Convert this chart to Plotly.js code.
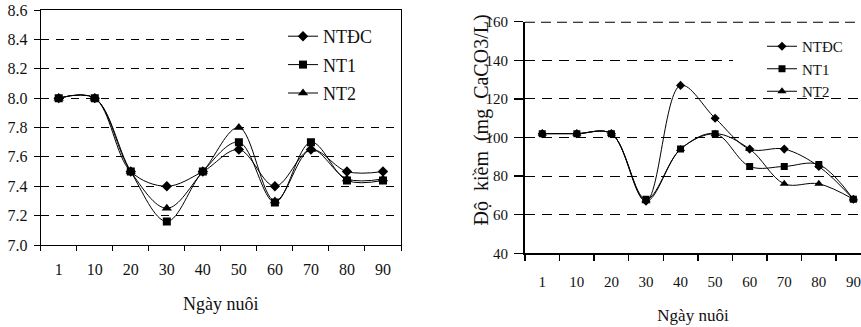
<!DOCTYPE html>
<html>
<head>
<meta charset="utf-8">
<script src="https://cdn.plot.ly/plotly-3.0.1.min.js"></script>
<style>html,body{margin:0;padding:0;background:#fff;}#chart{width:861px;height:327px;}</style>
</head>
<body>
<div id="chart"></div>
<script>
// Category labels (day of culture)
const days = ['1', '10', '20', '30', '40', '50', '60', '70', '80', '90'];

// Left panel: pH
const phNTDC = [8.0, 8.0, 7.5, 7.4, 7.5, 7.65, 7.4, 7.65, 7.5, 7.5];
const phNT1  = [8.0, 8.0, 7.5, 7.16, 7.5, 7.7, 7.29, 7.7, 7.44, 7.44];
const phNT2  = [8.0, 8.0, 7.5, 7.25, 7.5, 7.8, 7.3, 7.65, 7.45, 7.45];

// Right panel: alkalinity (mg CaCO3/L)
const alkNTDC = [102, 102, 102, 67, 127, 110, 94, 94, 85, 68];
const alkNT1  = [102, 102, 102, 68, 94, 102, 85, 85, 86, 68];
const alkNT2  = [102, 102, 102, 67, 94, 102, 94, 76, 76, 68];

const seriesNames = ['NTĐC', 'NT1', 'NT2'];
const symbols = ['diamond', 'square', 'triangle-up'];
const markerSizes = [8, 8, 9];

const FONT = "'Liberation Serif', 'DejaVu Serif', serif";
const W = 861, H = 327;
const px = v => v / W;
const py = v => 1 - v / H;

const leftData = [phNTDC, phNT1, phNT2];
const rightData = [alkNTDC, alkNT1, alkNT2];

const traces = [];
leftData.forEach((ys, i) => {
  traces.push({
    x: days, y: ys, xaxis: 'x', yaxis: 'y', name: seriesNames[i],
    type: 'scatter', mode: 'lines+markers',
    line: {color: '#000', width: 1, shape: 'spline', smoothing: 1},
    marker: {symbol: symbols[i], size: markerSizes[i], color: '#000'},
    legend: 'legend', legendgroup: 'L' + i
  });
});
rightData.forEach((ys, i) => {
  traces.push({
    x: days, y: ys, xaxis: 'x2', yaxis: 'y2', name: seriesNames[i],
    type: 'scatter', mode: 'lines+markers',
    line: {color: '#000', width: 1, shape: 'spline', smoothing: 1},
    marker: {symbol: symbols[i], size: markerSizes[i] - 1, color: '#000'},
    legend: 'legend2'
  });
});

const tickFontL = {family: FONT, size: 16, color: '#111'};
const tickFontR = {family: FONT, size: 15, color: '#111'};

const layout = {
  width: W, height: H,
  margin: {l: 0, r: 0, t: 0, b: 0},
  paper_bgcolor: '#fff', plot_bgcolor: 'rgba(0,0,0,0)',
  showlegend: true,
  font: {family: FONT, color: '#111'},
  xaxis: {
    domain: [px(40.7), px(401)], anchor: 'y',
    type: 'category', range: [-0.5, 9.5],
    showline: true, linecolor: '#000', linewidth: 1, mirror: true,
    ticks: 'outside', ticklen: 5, tickcolor: '#000', tickson: 'boundaries',
    showgrid: false, zeroline: false,
    tickfont: tickFontL, ticklabelstandoff: 10,
    title: {text: 'Ngày nuôi', font: {family: FONT, size: 18, color: '#111'}, standoff: 20}
  },
  yaxis: {
    domain: [py(245), py(10)], anchor: 'x',
    range: [7.0, 8.6], tickvals: [7.0, 7.2, 7.4, 7.6, 7.8, 8.0, 8.2, 8.4, 8.6],
    ticktext: ['7.0', '7.2', '7.4', '7.6', '7.8', '8.0', '8.2', '8.4', '8.6'],
    showline: true, linecolor: '#000', linewidth: 1, mirror: true,
    ticks: 'outside', ticklen: 6, tickcolor: '#000',
    showgrid: true, gridcolor: '#000', gridwidth: 1, griddash: '8px,7px',
    zeroline: false, tickfont: tickFontL, ticklabelstandoff: 3
  },
  xaxis2: {
    domain: [px(525), 1], anchor: 'y2',
    type: 'category', range: [-0.5, 9.22],
    showline: true, linecolor: '#000', linewidth: 2, mirror: false,
    ticks: 'outside', ticklen: 6, tickcolor: '#000', tickwidth: 1.5, tickson: 'boundaries',
    showgrid: false, zeroline: false,
    tickfont: tickFontR, ticklabelstandoff: 14,
    title: {text: 'Ngày nuôi', font: {family: FONT, size: 17, color: '#111'}, standoff: 20}
  },
  yaxis2: {
    domain: [py(253.3), py(21.7)], anchor: 'x2',
    range: [40, 160], tickvals: [40, 60, 80, 100, 120, 140, 160],
    showline: true, linecolor: '#000', linewidth: 2,
    ticks: 'outside', ticklen: 9, tickcolor: '#000', tickwidth: 1.5,
    showgrid: true, gridcolor: '#000', gridwidth: 1, griddash: '10px,7px',
    zeroline: false, tickfont: tickFontR, ticklabelstandoff: 3
  },
  legend: {
    x: px(283), y: py(18), xanchor: 'left', yanchor: 'top',
    bgcolor: 'rgba(0,0,0,0)', borderwidth: 0,
    font: {family: FONT, size: 18, color: '#111'},
    traceorder: 'grouped', tracegroupgap: 2, itemwidth: 30
  },
  legend2: {
    x: px(762), y: py(30), xanchor: 'left', yanchor: 'top',
    bgcolor: 'rgba(0,0,0,0)', borderwidth: 0,
    font: {family: FONT, size: 15, color: '#111'},
    traceorder: 'normal', itemwidth: 30, tracegroupgap: 0
  },
  shapes: [
    // legend background boxes hiding gridlines
    {type: 'rect', xref: 'paper', yref: 'paper', x0: px(248), x1: px(400.5), y0: py(110), y1: py(12),
     fillcolor: '#fff', line: {width: 0}, layer: 'above'},
    {type: 'rect', xref: 'paper', yref: 'paper', x0: px(733), x1: 1, y0: py(97), y1: py(30),
     fillcolor: '#fff', line: {width: 0}, layer: 'above'},
    // top frame line of right panel (dashed, heavier)
    {type: 'line', xref: 'x2 domain', yref: 'y2', x0: 0, x1: 1, y0: 160, y1: 160,
     line: {color: '#000', width: 2, dash: '10px,6px'}, layer: 'above'}
  ],
  annotations: [
    {text: 'Độ\u00a0 kiềm\u00a0 (mg\u00a0 CaCO3/L)', textangle: -90,
     xref: 'paper', yref: 'paper', x: px(481), y: py(227),
     xanchor: 'center', yanchor: 'bottom', showarrow: false,
     font: {family: FONT, size: 20, color: '#111'}}
  ]
};

Plotly.newPlot('chart', traces, layout, {displayModeBar: false, staticPlot: true});
</script>
</body>
</html>
